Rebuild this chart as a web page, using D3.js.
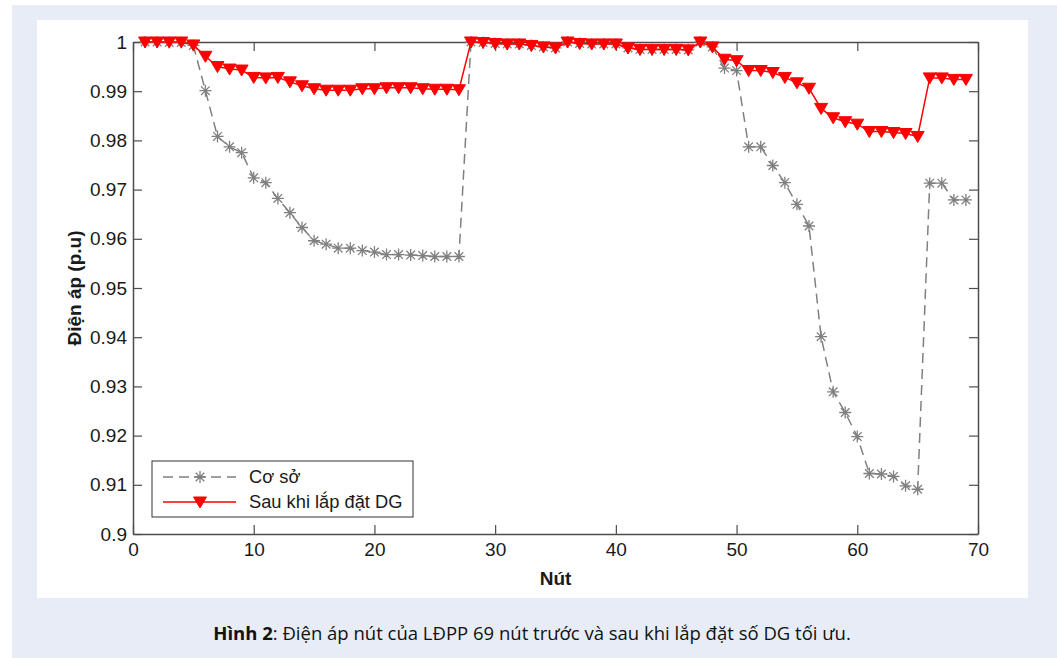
<!DOCTYPE html>
<meta charset="utf-8">
<style>
  body { margin: 0; background: #fff; }
  text { font-family: "Liberation Sans", Arial, sans-serif; }
</style>
<body>
  <svg id="chart" width="1057" height="658"></svg>

  <script src="https://cdnjs.cloudflare.com/ajax/libs/d3/7.8.5/d3.min.js"></script>
  <script>

    // node numbers 1..69
    var nodes = d3.range(1, 70)

    // Cơ sở (base case) voltages, p.u
    var baseV = [
      1.0000, 1.0000, 0.9999, 0.9999, 0.9993, 0.9901, 0.9808, 0.9787, 0.9775, 0.9724,
      0.9714, 0.9682, 0.9653, 0.9623, 0.9596, 0.9589, 0.9581, 0.9581, 0.9576, 0.9573,
      0.9568, 0.9568, 0.9567, 0.9566, 0.9564, 0.9564, 0.9564, 1.0000, 0.9999, 0.9997,
      0.9996, 0.9996, 0.9993, 0.9990, 0.9988, 1.0000, 0.9997, 0.9996, 0.9996, 0.9996,
      0.9988, 0.9985, 0.9985, 0.9985, 0.9985, 0.9984, 1.0000, 0.9990, 0.9947, 0.9942,
      0.9787, 0.9787, 0.9749, 0.9714, 0.9670, 0.9626, 0.9401, 0.9289, 0.9247, 0.9198,
      0.9123, 0.9122, 0.9117, 0.9098, 0.9091, 0.9713, 0.9713, 0.9679, 0.9679
    ]

    // Sau khi lắp đặt DG (after DG) voltages, p.u
    var dgV = [
      1.0000, 1.0000, 1.0000, 1.0000, 0.9994, 0.9971, 0.9950, 0.9945, 0.9943, 0.9928,
      0.9927, 0.9928, 0.9919, 0.9911, 0.9905, 0.9902, 0.9902, 0.9902, 0.9905, 0.9905,
      0.9907, 0.9907, 0.9907, 0.9905, 0.9904, 0.9904, 0.9903, 1.0000, 0.9999, 0.9997,
      0.9996, 0.9996, 0.9993, 0.9990, 0.9988, 1.0000, 0.9997, 0.9996, 0.9996, 0.9996,
      0.9988, 0.9985, 0.9985, 0.9985, 0.9985, 0.9984, 1.0000, 0.9990, 0.9965, 0.9962,
      0.9942, 0.9942, 0.9938, 0.9928, 0.9917, 0.9906, 0.9865, 0.9846, 0.9838, 0.9833,
      0.9818, 0.9818, 0.9816, 0.9814, 0.9808, 0.9927, 0.9927, 0.9924, 0.9924
    ]

    var xTicks = [0, 10, 20, 30, 40, 50, 60, 70]
    var yTicks = [0.9, 0.91, 0.92, 0.93, 0.94, 0.95, 0.96, 0.97, 0.98, 0.99, 1]
    var seriesNames = ["Cơ sở", "Sau khi lắp đặt DG"]


    var svg = d3.select("#chart")

    // page background + white figure panel
    svg.append("rect").attr("x", 12).attr("y", 5).attr("width", 1045).attr("height", 653).attr("fill", "#e8ecf7")
    svg.append("rect").attr("x", 37).attr("y", 20).attr("width", 991).attr("height", 578).attr("fill", "#fff")

    var pLeft = 133, pRight = 978, pTop = 42, pBottom = 534

    var x = d3.scaleLinear().domain([0, 70]).range([pLeft, pRight])
    var y = d3.scaleLinear().domain([0.9, 1]).range([pBottom, pTop])

    var axisColor = "#4d4d4d"
    var tickLen = 9

    // axes, inward ticks
    var gx = svg.append("g").attr("transform", "translate(0," + pBottom + ")")
      .call(d3.axisBottom(x).tickValues(xTicks).tickSizeInner(-tickLen).tickSizeOuter(0).tickPadding(9))
    var gy = svg.append("g").attr("transform", "translate(" + pLeft + ",0)")
      .call(d3.axisLeft(y).tickValues(yTicks).tickSizeInner(-tickLen).tickSizeOuter(0).tickPadding(6)
        .tickFormat(d => d3.format("~g")(d)))
    var gxt = svg.append("g").attr("transform", "translate(0," + pTop + ")")
      .call(d3.axisTop(x).tickValues(xTicks).tickSizeInner(-tickLen).tickSizeOuter(0).tickFormat(""))
    var gyr = svg.append("g").attr("transform", "translate(" + pRight + ",0)")
      .call(d3.axisRight(y).tickValues(yTicks).tickSizeInner(-tickLen).tickSizeOuter(0).tickFormat(""))

    ;[gx, gy, gxt, gyr].forEach(g => {
      g.select(".domain").attr("stroke", axisColor).attr("stroke-width", 1.5)
      g.selectAll(".tick line").attr("stroke", axisColor).attr("stroke-width", 1.2)
      g.selectAll(".tick text").attr("fill", "#1a1a1a").style("font-size", "19px")
        .style("font-family", "Liberation Sans, Arial, sans-serif")
    })

    // axis labels
    svg.append("text").text("Nút")
      .attr("x", (pLeft + pRight) / 2).attr("y", 585)
      .attr("text-anchor", "middle").style("font-size", "19px").attr("font-weight", "bold").attr("fill", "#1a1a1a")
    svg.append("text").text("Điện áp (p.u)")
      .attr("transform", "translate(81," + (pTop + pBottom) / 2 + ") rotate(-90)")
      .attr("text-anchor", "middle").style("font-size", "19px").attr("font-weight", "bold").attr("fill", "#1a1a1a")

    // markers
    var starPath = "M-6,0L6,0M0,-6L0,6M-4.3,-4.3L4.3,4.3M-4.3,4.3L4.3,-4.3"
    var triPath = "M-6.5,-5L6.5,-5L0,6Z"

    var line = d3.line().x((d, i) => x(nodes[i])).y(d => y(d))

    var plot = svg.append("g")

    // base case, gray dashed + stars
    plot.append("path").datum(baseV).attr("d", line)
      .attr("fill", "none").attr("stroke", "#808080").attr("stroke-width", 1.5).attr("stroke-dasharray", "10,6")
    plot.selectAll(".star").data(baseV).join("path").attr("class", "star")
      .attr("d", starPath)
      .attr("transform", (d, i) => "translate(" + x(nodes[i]) + "," + y(d) + ")")
      .attr("stroke", "#808080").attr("stroke-width", 1.3).attr("fill", "none")

    // after DG, red solid + down triangles
    plot.append("path").datum(dgV).attr("d", line)
      .attr("fill", "none").attr("stroke", "#ff0000").attr("stroke-width", 1.5)
    plot.selectAll(".tri").data(dgV).join("path").attr("class", "tri")
      .attr("d", triPath)
      .attr("transform", (d, i) => "translate(" + x(nodes[i]) + "," + y(d) + ")")
      .attr("fill", "#ff0000").attr("stroke", "#ff0000").attr("stroke-width", 1)

    // legend
    var lg = svg.append("g")
    lg.append("rect").attr("x", 152).attr("y", 461).attr("width", 261).attr("height", 56)
      .attr("fill", "#fff").attr("stroke", "#333").attr("stroke-width", 1)

    lg.append("line").attr("x1", 163).attr("x2", 236).attr("y1", 477).attr("y2", 477)
      .attr("stroke", "#808080").attr("stroke-width", 1.5).attr("stroke-dasharray", "10,6")
    lg.append("path").attr("d", starPath).attr("transform", "translate(200,477)")
      .attr("stroke", "#808080").attr("stroke-width", 1.3).attr("fill", "none")
    lg.append("line").attr("x1", 163).attr("x2", 236).attr("y1", 502).attr("y2", 502)
      .attr("stroke", "#ff0000").attr("stroke-width", 1.5)
    lg.append("path").attr("d", triPath).attr("transform", "translate(200,502)")
      .attr("fill", "#ff0000").attr("stroke", "#ff0000")

    seriesNames.forEach((s, i) => {
      lg.append("text").text(s).attr("x", 249).attr("y", 477 + i * 25 + 6)
        .style("font-size", "18.3px").attr("fill", "#1a1a1a")
    })

    // caption
    var cap = svg.append("text").attr("x", 532).attr("y", 640).attr("text-anchor", "middle")
      .style("font-family", "Open Sans, Noto Sans, sans-serif").style("font-size", "18.5px").attr("fill", "#111")
    cap.append("tspan").text("Hình 2").attr("font-weight", "bold")
    cap.append("tspan").text(": Điện áp nút của LĐPP 69 nút trước và sau khi lắp đặt số DG tối ưu.")

  </script>
</body>
